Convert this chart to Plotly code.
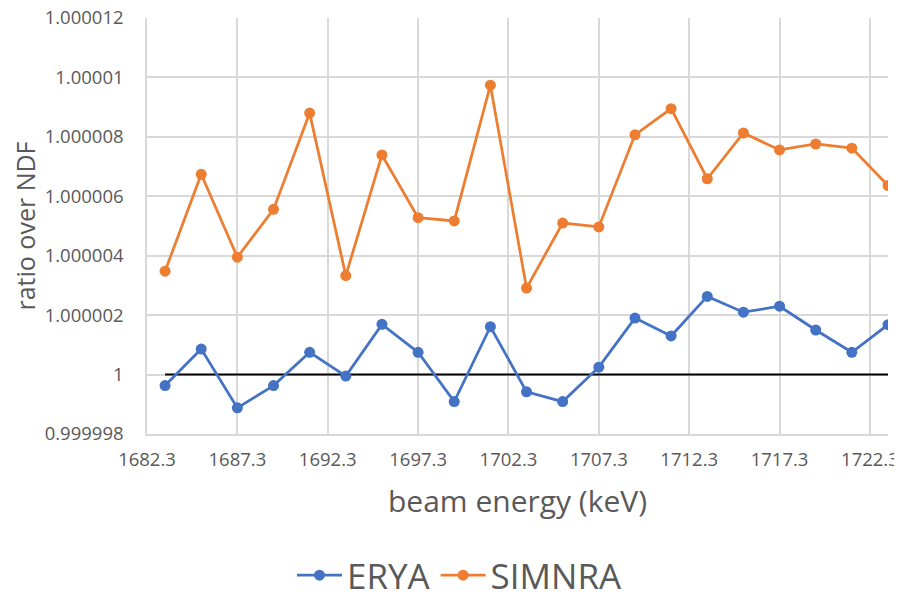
import plotly.graph_objects as go

# beam energy (keV)
energy = [1683.3, 1685.3, 1687.3, 1689.3, 1691.3, 1693.3, 1695.3, 1697.3, 1699.3, 1701.3,
          1703.3, 1705.3, 1707.3, 1709.3, 1711.3, 1713.3, 1715.3, 1717.3, 1719.3, 1721.3, 1723.3]

erya = [0.99999963, 1.00000086, 0.99999888, 0.99999963, 1.00000075, 0.99999995, 1.00000169,
        1.00000075, 0.99999909, 1.00000161, 0.99999942, 0.99999909, 1.00000025, 1.00000190,
        1.00000130, 1.00000263, 1.00000210, 1.00000230, 1.00000150, 1.00000075, 1.00000168]

simnra = [1.00000348, 1.00000674, 1.00000395, 1.00000556, 1.00000880, 1.00000333, 1.00000739,
          1.00000528, 1.00000517, 1.00000974, 1.00000291, 1.00000510, 1.00000497, 1.00000807,
          1.00000895, 1.00000659, 1.00000813, 1.00000756, 1.00000776, 1.00000762, 1.00000636]

reference = [1.0] * len(energy)

y_tickvals = [0.999998, 1.0, 1.000002, 1.000004, 1.000006, 1.000008, 1.00001, 1.000012]
y_ticktext = ["0.999998", "1", "1.000002", "1.000004", "1.000006", "1.000008", "1.00001", "1.000012"]

FONT = "Open Sans"
GRAY = "#595959"

fig = go.Figure()
fig.add_trace(go.Scatter(x=energy, y=reference, mode="lines",
                         line=dict(color="black", width=2), showlegend=False,
                         hoverinfo="skip"))
fig.add_trace(go.Scatter(x=energy, y=erya, mode="lines+markers", name="ERYA",
                         line=dict(color="#4472C4", width=2.75),
                         marker=dict(color="#4472C4", size=11)))
fig.add_trace(go.Scatter(x=energy, y=simnra, mode="lines+markers", name="SIMNRA",
                         line=dict(color="#ED7D31", width=2.75),
                         marker=dict(color="#ED7D31", size=11)))

fig.update_layout(
    width=902, height=600,
    margin=dict(l=139, r=22, t=10, b=174, autoexpand=False),
    paper_bgcolor="white", plot_bgcolor="white",
    font=dict(family=FONT, color=GRAY),
    legend=dict(orientation="h", x=0.4224, xanchor="center", y=-0.34, yanchor="middle",
                font=dict(size=35, color=GRAY), itemwidth=45),
)
fig.update_xaxes(
    range=[1682.3, 1723.3], tick0=1682.3, dtick=5, tickformat=".1f",
    showgrid=True, gridcolor="#d9d9d9", gridwidth=1.5,
    showline=True, linecolor="#d9d9d9", linewidth=1.5,
    zeroline=False, ticks="", ticklabelstandoff=8, automargin=False,
    ticklabeloverflow="allow",
    tickfont=dict(size=18.5, color=GRAY),
    title=dict(text="beam energy (keV)", font=dict(size=30, color=GRAY), standoff=21),
)
fig.update_yaxes(
    range=[0.999998, 1.000012], tickvals=y_tickvals, ticktext=y_ticktext,
    showgrid=True, gridcolor="#d9d9d9", gridwidth=1.5,
    showline=True, linecolor="#d9d9d9", linewidth=1.5,
    zeroline=False, ticks="", ticklabelstandoff=18, automargin=False,
    ticklabeloverflow="allow",
    tickfont=dict(size=18.5, color=GRAY),
    title=dict(text="ratio over NDF", font=dict(size=25, color=GRAY), standoff=20),
)

fig.write_html("out.html")
